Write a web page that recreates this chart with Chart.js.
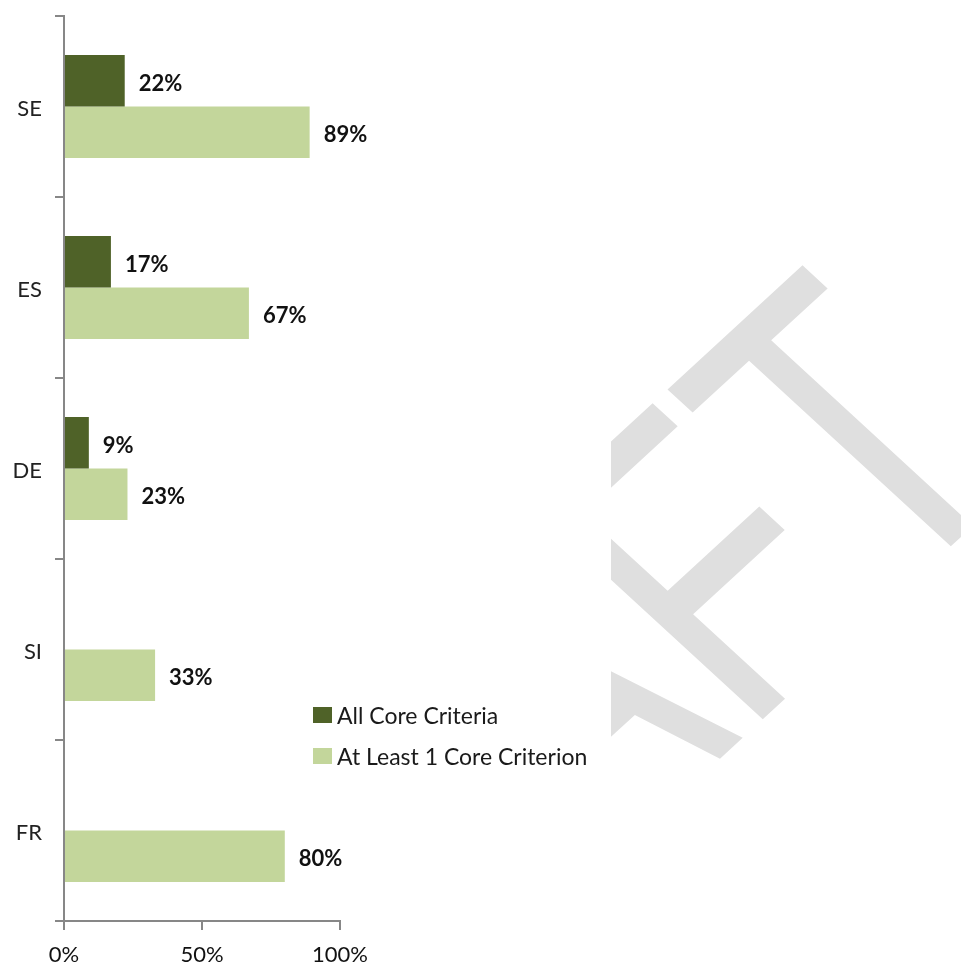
<!DOCTYPE html>
<html>
<head>
<meta charset="utf-8">
<title>Core criteria by country</title>
<script src="https://cdn.jsdelivr.net/npm/chart.js@4.4.1/dist/chart.umd.min.js"></script>
<style>
  html, body { margin: 0; padding: 0; background: #fff; }
  #wrap { position: relative; width: 961px; height: 965px; }
  #legend { position: absolute; left: 313px; top: 703px; font-family: Lato, sans-serif; font-size: 23px; color: #1a1a1a; }
  #legend .row { display: flex; align-items: center; height: 24px; margin-bottom: 17px; }
  #legend .box { width: 19px; height: 16px; margin-right: 5px; }
</style>
</head>
<body>
<div id="wrap">
  <canvas id="chart" width="961" height="965"></canvas>
  <div id="legend"></div>
</div>
<script>
// data
const categories = ['SE', 'ES', 'DE', 'SI', 'FR'];
const seriesNames = ['All Core Criteria', 'At Least 1 Core Criterion'];
const allCore = [0.22, 0.17, 0.09, null, null];
const atLeastOne = [0.89, 0.67, 0.23, 0.33, 0.80];
const xTicks = [0, 0.5, 1];
const watermarkText = 'DRAFT';

const DARK = '#4f6228';
const LIGHT = '#c3d69b';
const AXIS = '#878787';

const pct = v => Math.round(v * 100) + '%';

// big grey watermark behind the right half (slightly stretched sideways like the source)
const watermark = {
  id: 'watermark',
  beforeDraw(chart) {
    const ctx = chart.ctx;
    ctx.save();
    ctx.beginPath();
    ctx.rect(611, 0, chart.width - 611, chart.height);
    ctx.clip();
    ctx.scale(1.087, 1);
    ctx.translate(220, 1201);
    ctx.rotate(-Math.PI / 4);
    ctx.scale(0.724, 1);
    ctx.font = '429px "Liberation Sans"';
    ctx.fillStyle = '#dfdfdf';
    ctx.textAlign = 'left';
    ctx.textBaseline = 'alphabetic';
    ctx.fillText(watermarkText, 0, 0);
    ctx.restore();
  }
};

// value labels to the right of each bar
const barLabels = {
  id: 'barLabels',
  afterDatasetsDraw(chart) {
    const ctx = chart.ctx;
    ctx.save();
    ctx.font = 'bold 22px Lato';
    ctx.fillStyle = '#111';
    ctx.textAlign = 'left';
    ctx.textBaseline = 'middle';
    chart.data.datasets.forEach((ds, i) => {
      chart.getDatasetMeta(i).data.forEach((bar, j) => {
        const v = ds.data[j];
        if (v === null || v === undefined) return;
        ctx.fillText(pct(v), bar.x + 14, bar.y + 3);
      });
    });
    ctx.restore();
  }
};

const chart = new Chart(document.getElementById('chart'), {
  type: 'bar',
  data: {
    labels: categories,
    datasets: [
      { label: seriesNames[0], data: allCore, backgroundColor: DARK },
      { label: seriesNames[1], data: atLeastOne, backgroundColor: LIGHT }
    ]
  },
  options: {
    indexAxis: 'y',
    responsive: false,
    animation: false,
    devicePixelRatio: 1,
    layout: { padding: { top: 16, right: 621, bottom: 0, left: 0 } },
    datasets: {
      bar: { categoryPercentage: 0.57, barPercentage: 1, borderWidth: 0 }
    },
    scales: {
      x: {
        min: 0,
        max: 1,
        afterBuildTicks: s => { s.ticks = xTicks.map(v => ({ value: v })); },
        afterFit: s => { s.height = 44; },
        border: { color: AXIS, width: 2 },
        grid: { drawOnChartArea: false, color: AXIS, lineWidth: 2, tickLength: 9 },
        ticks: {
          callback: v => pct(v),
          color: '#111',
          padding: 12,
          maxRotation: 0,
          font: { family: 'Lato', size: 22 }
        }
      },
      y: {
        afterFit: s => { s.width = 64; s.paddingTop = 0; s.paddingBottom = 0; },
        border: { color: AXIS, width: 2 },
        grid: { drawOnChartArea: false, offset: true, color: AXIS, lineWidth: 2, tickLength: 9 },
        ticks: {
          color: '#222',
          padding: 13,
          labelOffset: 2,
          font: { family: 'Lato', size: 22 }
        }
      }
    },
    plugins: {
      legend: { display: false },
      tooltip: { enabled: false }
    }
  },
  plugins: [watermark, barLabels]
});

// html legend built from the datasets
const legendEl = document.getElementById('legend');
chart.data.datasets.forEach(ds => {
  const row = document.createElement('div');
  row.className = 'row';
  row.innerHTML = `<span class="box" style="background:${ds.backgroundColor}"></span><span>${ds.label}</span>`;
  legendEl.appendChild(row);
});
</script>
</body>
</html>
